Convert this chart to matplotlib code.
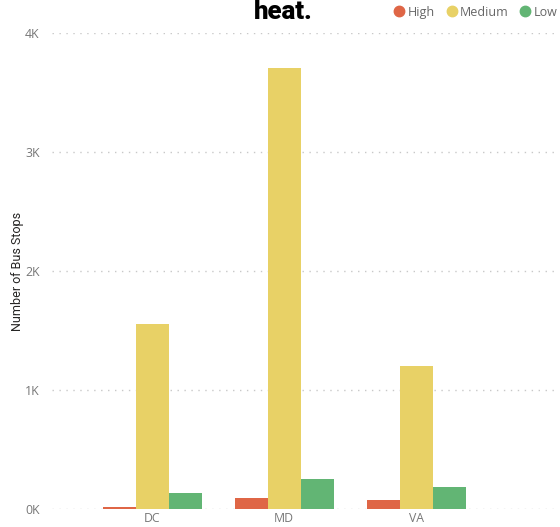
import matplotlib
matplotlib.use("Agg")
import matplotlib.pyplot as plt
from matplotlib.lines import Line2D
import numpy as np

states = ["DC", "MD", "VA"]
series = ["High", "Medium", "Low"]
high = [15, 93, 78]
medium = [1558, 3705, 1204]
low = [135, 255, 183]
colors = ["#DF6646", "#E8D166", "#62B574"]
yticks = [0, 1000, 2000, 3000, 4000]
ytick_labels = ["0K", "1K", "2K", "3K", "4K"]

fig = plt.figure(figsize=(5.6, 5.27), dpi=100)
ax = fig.add_axes([0.093, 0.034, 0.90, 0.903])

x = np.arange(len(states))
w = 0.25
for i, (vals, c) in enumerate(zip([high, medium, low], colors)):
    ax.bar(x + (i - 1) * w, vals, width=w, color=c, edgecolor="none", zorder=3)

ax.set_xlim(-0.758, 3.06)
ax.set_ylim(0, 4000)
ax.set_yticks(yticks)
ax.set_yticklabels(ytick_labels)
ax.set_xticks(x)
ax.set_xticklabels(states)
ax.tick_params(length=0, colors="#777777", labelsize=8.8)
ax.tick_params(axis="y", pad=9)
ax.tick_params(axis="x", pad=2)
for lbl in ax.get_xticklabels() + ax.get_yticklabels():
    lbl.set_fontfamily("Open Sans")
for s in ax.spines.values():
    s.set_visible(False)
ax.grid(axis="y", linestyle=(0, (1, 4)), color="#C8C8C8", linewidth=1, zorder=0)
ax.set_ylabel("Number of Bus Stops", fontsize=9, color="#252423", family="Roboto")
ax.yaxis.set_label_coords(-0.055, 0.5)

fig.text(0.505, 0.977, "heat.", ha="center", va="center", fontsize=18.5,
         fontweight="heavy", family="Roboto", color="#000000")

handles = [Line2D([], [], marker="o", linestyle="none", markersize=7.5,
                  markerfacecolor=c, markeredgecolor=c) for c in colors]
leg = fig.legend(handles, series, loc="center right", bbox_to_anchor=(0.995, 0.977),
                 ncol=3, frameon=False, handlelength=0.8, handletextpad=0.25,
                 columnspacing=0.95, borderaxespad=0, borderpad=0,
                 prop={"family": "Open Sans", "size": 9})
for t in leg.get_texts():
    t.set_color("#666666")

fig.savefig("out.png", dpi=100, facecolor="white")
